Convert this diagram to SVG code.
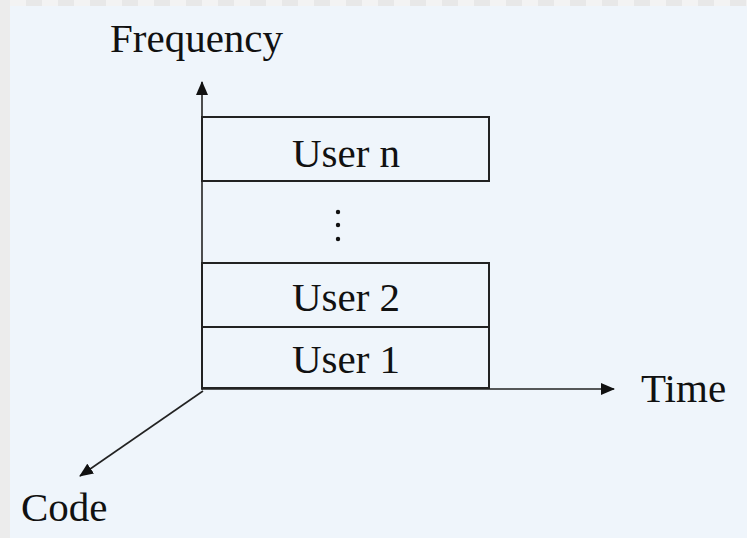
<svg xmlns="http://www.w3.org/2000/svg" width="747" height="538" viewBox="0 0 747 538">
<defs>
<style>
.t{font-family:"Liberation Serif","Times New Roman",serif;font-size:41px;fill:#111}
.box{fill:none;stroke:#222;stroke-width:2}
.ax{stroke:#222;stroke-width:1.6;fill:none}
</style>
<marker id="ah" viewBox="0 0 14 12" refX="13" refY="6" markerWidth="14" markerHeight="12" markerUnits="userSpaceOnUse" orient="auto">
<path d="M0,0 L14,6 L0,12 Z" fill="#111"/>
</marker>
<pattern id="dash" x="26" y="0" width="32" height="6" patternUnits="userSpaceOnUse">
<rect width="16" height="6" fill="#e8e8e8"/>
<rect x="16" width="16" height="6" fill="#f3f3f3"/>
</pattern>
</defs>
<rect width="747" height="538" fill="#eff5fb"/>
<rect x="0" y="0" width="747" height="6" fill="url(#dash)"/>
<rect x="0" y="0" width="10" height="538" fill="#ececec"/>

<g id="connectors">
<line class="ax" x1="202" y1="390" x2="202" y2="82" marker-end="url(#ah)"/>
<line class="ax" x1="202" y1="389" x2="614" y2="389" marker-end="url(#ah)"/>
<line class="ax" x1="203" y1="391" x2="80" y2="476" marker-end="url(#ah)"/>
</g>

<g id="user-n">
<rect class="box" x="202" y="117" width="287" height="64"/>
<text class="t" x="346" y="167" text-anchor="middle">User n</text>
</g>
<g id="dots">
<circle cx="338" cy="212" r="2.2" fill="#111"/>
<circle cx="338" cy="225" r="2.2" fill="#111"/>
<circle cx="338" cy="239" r="2.2" fill="#111"/>
</g>
<g id="user-2">
<rect class="box" x="202" y="263" width="287" height="64"/>
<text class="t" x="346" y="311" text-anchor="middle">User 2</text>
</g>
<g id="user-1">
<rect class="box" x="202" y="327" width="287" height="61"/>
<text class="t" x="346" y="373" text-anchor="middle">User 1</text>
</g>

<g id="labels">
<text class="t" x="110" y="52">Frequency</text>
<text class="t" x="641" y="402">Time</text>
<text class="t" x="21" y="521">Code</text>
</g>
</svg>
